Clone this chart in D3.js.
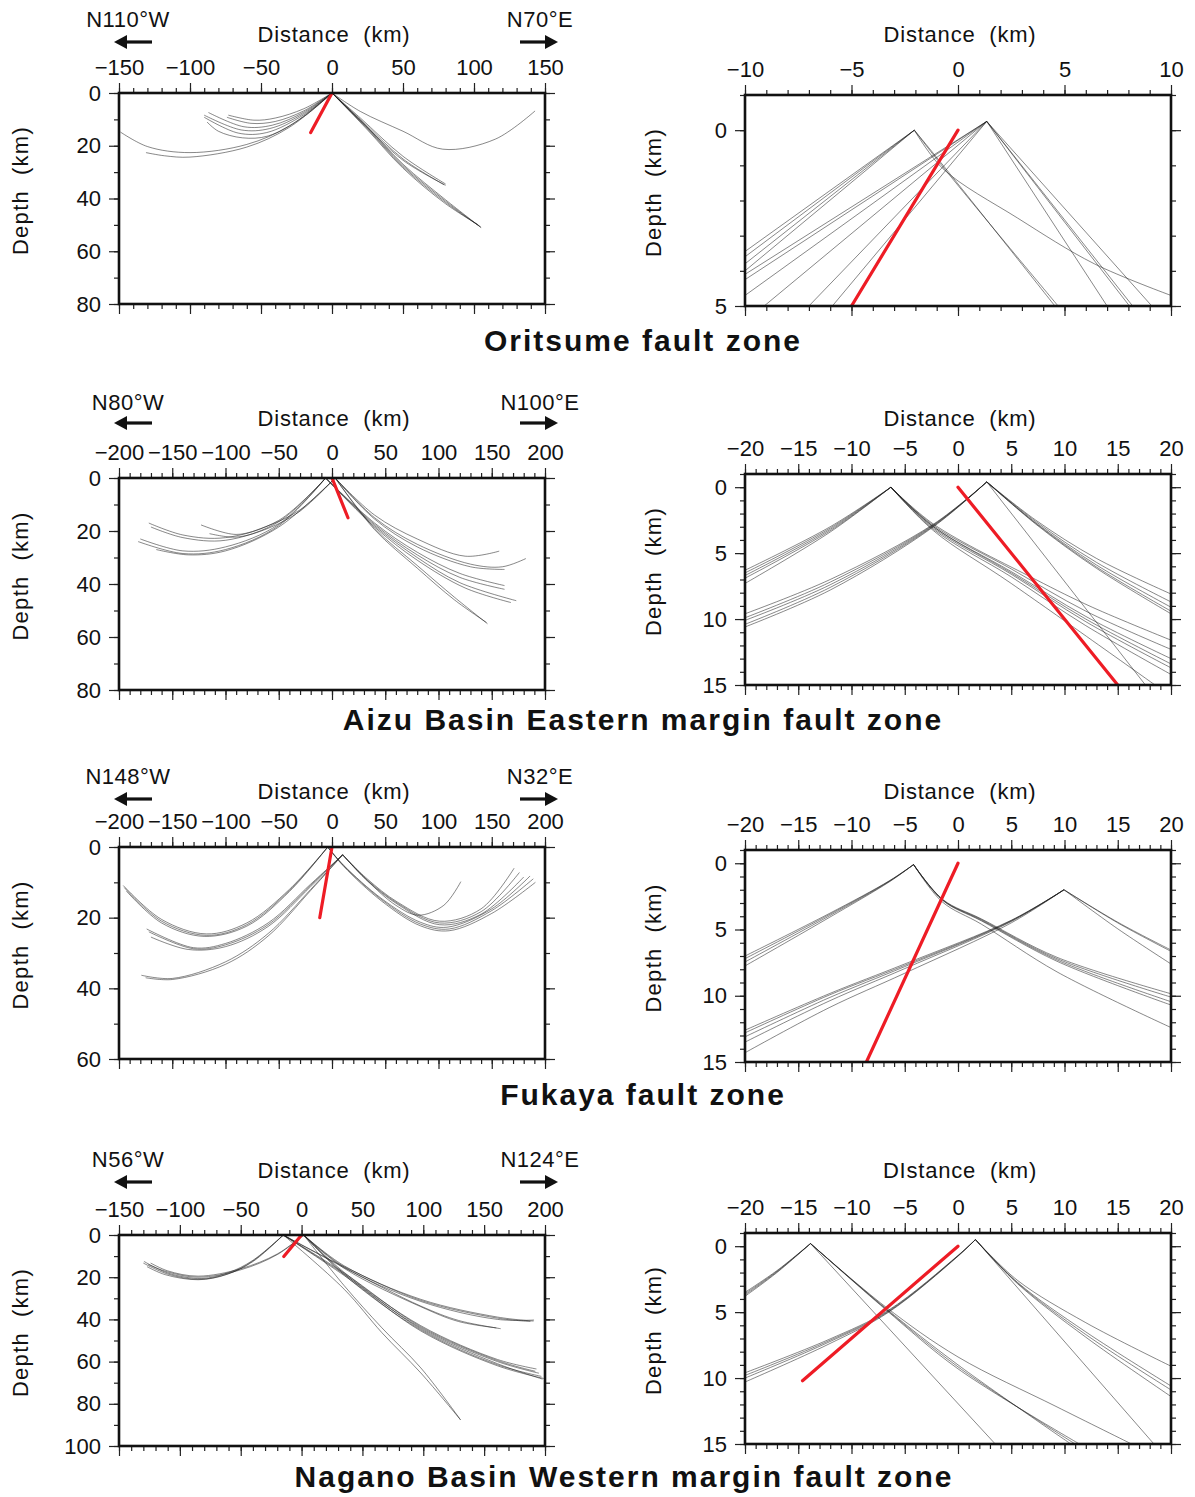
<!DOCTYPE html>
<html><head><meta charset="utf-8">
<script src="https://cdn.jsdelivr.net/npm/d3@7"></script>
<style>
body{margin:0;background:#fff;}
svg text{font-family:"Liberation Sans",Arial,Helvetica,sans-serif;fill:#111;}
</style></head><body>
<svg id="chart" width="1195" height="1497"></svg>
<script>
// ---------------- DATA ----------------
const zoneTitles = ["Oritsume fault zone", "Aizu Basin Eastern margin fault zone", "Fukaya fault zone", "Nagano Basin Western margin fault zone"];
const directionLabels = [["N110°W", "N70°E"], ["N80°W", "N100°E"], ["N148°W", "N32°E"], ["N56°W", "N124°E"]];
const wideDistanceDomains = [[-150, 150], [-200, 200], [-200, 200], [-150, 200]];
const wideDepthDomains = [[0, 80], [0, 80], [0, 60], [0, 100]];
const zoomDistanceDomains = [[-10, 10], [-20, 20], [-20, 20], [-20, 20]];
const zoomDepthDomains = [[-1, 5], [-1, 15], [-1, 15], [-1, 15]];
const distanceTitles = ["Distance  (km)", "Distance  (km)", "Distance  (km)", "Distance  (km)"];
const zoomDistanceTitles = ["Distance  (km)", "Distance  (km)", "Distance  (km)", "DIstance  (km)"];

// Oritsume
const oritsumeWideRays = [
  [[0,0],[-20,6],[-40,9.5],[-55,10.3],[-73,8.4]],
  [[0,0],[-20,6.8],[-40,10.8],[-57,11.5],[-74,9.2]],
  [[0,0],[-20,7.3],[-42,12.2],[-62,12.8],[-87,7.4]],
  [[0,0],[-20,7.8],[-44,13.5],[-64,14],[-90,8.4]],
  [[0,0],[-20,8.3],[-46,15],[-66,15.2],[-90,9.2]],
  [[0,0],[-20,9],[-45,16.3],[-63,17],[-80,14.5],[-88,11]],
  [[0,0],[-30,12.5],[-60,19.5],[-100,22.6],[-130,20.3],[-149,14.8]],
  [[0,0],[-30,13],[-60,20.5],[-100,24.3],[-118,23.8],[-131,22.6]],
  [[0,0],[20,7],[50,14.5],[78,21.3],[115,17.5],[143,6.8]],
  [[0,0],[20,9.5],[50,24],[80,34.5]],
  [[0,0],[20,10],[50,25],[79,34.8]],
  [[0,0],[20,10.5],[50,25.5],[80,35]],
  [[0,0],[25,13],[50,27],[80,40.5],[105,51]],
  [[0,0],[25,13.3],[50,27.5],[80,41],[105,51]],
  [[0,0],[25,13.6],[50,28],[80,41.5],[104,50.5]],
  [[0,0],[25,14],[50,28.5],[80,42],[103,50]]
];
const oritsumeWideFault = [[0,0],[-15,15]];
const oritsumeZoomRays = [
  [[-2.05,0],[-10,3.45]],
  [[-2.05,0],[-10,3.6]],
  [[-2.05,0],[-10,3.8]],
  [[-2.05,0],[-10,4.0]],
  [[-2.05,0],[-0.7,1.0],[4.55,5]],
  [[-2.05,0],[-0.7,1.05],[4.7,5]],
  [[-2.05,0],[-0.7,1.1],[2.8,2.5],[6.4,3.8],[10,4.7]],
  [[1.35,-0.25],[-10,4.1]],
  [[1.35,-0.25],[-10,4.25]],
  [[1.35,-0.25],[-10,4.7]],
  [[1.35,-0.25],[-9.1,5]],
  [[1.35,-0.25],[-7,5]],
  [[1.35,-0.25],[-5.9,5]],
  [[1.35,-0.25],[7,5]],
  [[1.35,-0.25],[8.05,5]],
  [[1.35,-0.25],[8.2,5]],
  [[1.35,-0.25],[9.1,5]]
];
const oritsumeZoomFault = [[0,0],[-5,5]];

// Aizu
const aizuWideRays = [
  [[-6,0],[-50,16],[-100,22.5],[-140,21.5],[-172,17]],
  [[-6,0],[-50,16.5],[-100,23.5],[-140,22.5],[-170,18.5]],
  [[-6,0],[-50,17.5],[-100,26],[-140,27.5],[-180,23]],
  [[-6,0],[-50,18],[-100,27],[-140,28.5],[-182,24]],
  [[3,0],[-50,18.5],[-100,27.5],[-135,29],[-165,27]],
  [[3,0],[-30,12],[-60,18],[-90,21.3],[-123,17.7]],
  [[3,0],[-30,12.5],[-60,19],[-90,22.3],[-115,21]],
  [[3,0],[40,14],[80,23],[125,29.5],[157,27.6]],
  [[3,0],[40,15],[80,25],[130,32.5],[160,33.5],[182,30.4]],
  [[3,0],[40,15.5],[80,26],[130,33.5],[162,34.5]],
  [[-6,0],[40,17],[80,28],[120,36],[162,40.6]],
  [[-6,0],[40,17.5],[80,29],[120,37.5],[162,42]],
  [[-6,0],[40,18],[80,30],[120,39.5],[173,46.3]],
  [[-6,0],[40,18.5],[80,31],[125,41.5],[168,47]],
  [[3,0],[40,19],[80,33],[115,45],[146,55]],
  [[3,0],[40,19.5],[80,34],[115,46],[145,54.5]]
];
const aizuWideFault = [[0,0],[15,15]];
const aizuZoomRays = [
  [[-6.3,0],[-12,3.0],[-20,6.3]],
  [[-6.3,0],[-12,3.1],[-20,6.5]],
  [[-6.3,0],[-12,3.2],[-20,6.7]],
  [[-6.3,0],[-12,3.3],[-20,6.9]],
  [[-6.3,0],[-12,3.4],[-20,7.3]],
  [[-6.3,0],[-2.3,2.8],[7.3,7.0],[12.6,9.1],[20,11.6]],
  [[-6.3,0],[-2.3,2.9],[5,6.2],[12,9.4],[20,12.3]],
  [[-6.3,0],[-2.3,3.0],[5,6.4],[12,9.8],[20,13.0]],
  [[-6.3,0],[-2.3,3.0],[5,6.5],[12,10],[20,13.4]],
  [[-6.3,0],[-2.3,3.1],[5,6.6],[12,10.2],[20,13.7]],
  [[-6.3,0],[-2.3,3.2],[5,6.8],[12,10.5],[20,14.2]],
  [[-6.3,0],[-2.3,3.3],[5,7.3],[18.5,15]],
  [[2.7,-0.4],[-2.3,2.8],[-12,7.0],[-20,9.6]],
  [[2.7,-0.4],[-2.3,2.85],[-12,7.2],[-20,9.9]],
  [[2.7,-0.4],[-2.3,2.9],[-12,7.4],[-20,10.1]],
  [[2.7,-0.4],[-2.3,2.95],[-12,7.6],[-20,10.4]],
  [[2.7,-0.4],[-2.3,3.0],[-12,7.8],[-20,10.6]],
  [[2.7,-0.4],[7.3,2.5],[13,5.4],[20,8.1]],
  [[2.7,-0.4],[7.3,2.6],[13,5.7],[20,8.7]],
  [[2.7,-0.4],[7.3,2.7],[13,5.9],[20,9.1]],
  [[2.7,-0.4],[7.3,2.75],[13,6.05],[20,9.4]],
  [[2.7,-0.4],[7.3,2.8],[13,6.15],[20,9.6]],
  [[2.7,-0.4],[17.6,15]]
];
const aizuZoomFault = [[0,0],[15,15]];

// Fukaya
const fukayaWideRays = [
  [[-4,0],[-40,12],[-80,21.5],[-118,24.6],[-160,20.5],[-196,10.9]],
  [[-4,0],[-40,12.3],[-80,22],[-118,25],[-160,21],[-195,11.5]],
  [[-4,0],[-40,12.6],[-80,22.4],[-120,25.3],[-160,21.5],[-193,12.5]],
  [[10,2.2],[-20,10.5],[-60,21.5],[-100,27.3],[-130,28.5],[-174,23.2]],
  [[10,2.2],[-20,10.8],[-60,22],[-100,27.7],[-130,28.8],[-172,24]],
  [[10,2.2],[-20,11.2],[-60,22.5],[-100,28.2],[-135,29],[-170,25.5]],
  [[10,2.2],[-20,12],[-60,24.5],[-100,32.5],[-150,37.2],[-179,36.3]],
  [[10,2.2],[-20,12.3],[-60,25.2],[-100,33.2],[-150,37.5],[-175,37]],
  [[-4,0],[11,5.2],[47,14.7],[83,21.3],[108,22.7],[150,17.5],[186,8.2]],
  [[-4,0],[11,5.3],[47,15],[83,21.8],[110,23.2],[150,18],[189,9]],
  [[-4,0],[11,5.5],[47,15.4],[83,22.3],[110,23.7],[150,18.8],[191,10]],
  [[10,2.2],[33,9],[61.5,15.6],[101,21],[140,17.5],[171,6]],
  [[10,2.2],[33,9.3],[62,16],[101,21.5],[140,18.3],[176,7.2]],
  [[10,2.2],[33,9.5],[62,16.3],[101,22],[140,19],[180,8.5]],
  [[10,2.2],[33,9.5],[60,16.5],[81,19.3],[105,16.5],[121,9.8]]
];
const fukayaWideFault = [[0,0],[-11.5,20]];
const fukayaZoomRays = [
  [[-4.17,0.1],[-6.4,1.3],[-12.1,3.8],[-20,7.0]],
  [[-4.17,0.1],[-6.4,1.32],[-12.1,3.88],[-20,7.2]],
  [[-4.17,0.1],[-6.4,1.35],[-12.1,3.98],[-20,7.45]],
  [[-4.17,0.1],[-6.4,1.38],[-12.1,4.1],[-20,7.75]],
  [[-4.17,0.1],[-1.4,2.75],[2.2,4.2],[9.3,7.1],[20,9.85]],
  [[-4.17,0.1],[-1.4,2.78],[2.2,4.25],[9.3,7.2],[20,10.1]],
  [[-4.17,0.1],[-1.4,2.8],[2.2,4.3],[9.3,7.3],[20,10.45]],
  [[-4.17,0.1],[-1.4,2.83],[2.2,4.35],[9.3,7.4],[20,10.7]],
  [[-4.17,0.1],[-1.5,2.9],[2.2,4.6],[9.3,8.2],[20,12.4]],
  [[9.95,2.0],[5,4.3],[-5,7.6],[-12.1,9.85],[-20,12.6]],
  [[9.95,2.0],[5,4.33],[-5,7.7],[-12.1,9.95],[-20,12.8]],
  [[9.95,2.0],[5,4.36],[-5,7.8],[-12.1,10.15],[-20,13.1]],
  [[9.95,2.0],[5,4.4],[-5,7.95],[-12.1,10.4],[-20,13.5]],
  [[9.95,2.0],[5,4.5],[-5,8.3],[-12.1,10.9],[-20,14.3]],
  [[9.95,2.0],[15,4.45],[20,6.55]],
  [[9.95,2.0],[15,4.5],[20,6.65]],
  [[9.95,2.0],[15,4.95],[20,7.6]]
];
const fukayaZoomFault = [[0,0],[-8.6,15]];

// Nagano
const naganoWideRays = [
  [[-15,0],[-40,12],[-60,17.8],[-82,20.6],[-110,18],[-129.5,12.5]],
  [[-15,0],[-40,12.3],[-60,18.3],[-84,21],[-110,18.5],[-130,13.3]],
  [[-15,0],[-40,12.6],[-62,18.8],[-85,21.2],[-112,18.8],[-127,15]],
  [[1.7,0],[-20,9],[-50,16],[-85,19.5],[-110,17],[-124,13.3]],
  [[1.7,0],[-20,9.3],[-50,16.5],[-85,20],[-110,17.5],[-126,14]],
  [[1.7,0],[35,14.6],[98,30.5],[161,38.9],[190.6,40.8]],
  [[-15,0],[35,15],[98,31],[161,39.4],[188,41]],
  [[1.7,0],[35,15.2],[98,31.5],[161,40],[191,40.3]],
  [[-15,0],[35,15.5],[98,33.7],[129,40.5],[163.6,44.4]],
  [[1.7,0],[35,15.8],[98,34],[129,41],[160,44]],
  [[-15,0],[35,18],[98,43.5],[161,59.5],[192,64.6]],
  [[1.7,0],[35,18.3],[98,44],[161,60],[195,65.5]],
  [[-15,0],[35,18.6],[98,44.5],[161,61],[198,68.3]],
  [[1.7,0],[35,18.9],[98,45],[161,61.5],[197,67]],
  [[-15,0],[35,19.2],[98,45.5],[161,62],[199,68]],
  [[1.7,0],[35,17.7],[98,43],[161,59],[193,63.5]],
  [[-15,0],[35,25.7],[66,46.3],[98,65.4],[130.6,87.6]],
  [[1.7,0],[35,24],[66,44],[98,63],[130.6,87.6]]
];
const naganoWideFault = [[0,0],[-14.6,10.2]];
const naganoZoomRays = [
  [[-13.85,-0.2],[-17,1.85],[-20,3.5]],
  [[-13.85,-0.2],[-17,1.9],[-20,3.6]],
  [[-13.85,-0.2],[-17,1.95],[-20,3.7]],
  [[-13.85,-0.2],[-17,2.0],[-20,3.8]],
  [[-13.85,-0.2],[-6.8,4.6],[0,8.4],[9.2,12.15],[16.3,15]],
  [[-13.85,-0.2],[-6.8,4.7],[0,9.0],[10.6,15]],
  [[-13.85,-0.2],[-6.8,4.75],[0,9.15],[11,15]],
  [[-13.85,-0.2],[-6.8,4.8],[0,9.3],[11.4,15]],
  [[-13.85,-0.2],[3.5,15]],
  [[1.64,-0.5],[0,0.7],[-6.5,4.84],[-12.2,7.1],[-20,9.6]],
  [[1.64,-0.5],[0,0.72],[-6.5,4.9],[-12.2,7.2],[-20,9.8]],
  [[1.64,-0.5],[0,0.74],[-6.5,4.95],[-12.2,7.3],[-20,10.0]],
  [[1.64,-0.5],[0,0.76],[-6.5,5.0],[-12.2,7.45],[-20,10.3]],
  [[1.64,-0.5],[5.6,2.6],[12,5.8],[20,9.1]],
  [[1.64,-0.5],[5.6,2.75],[12,6.5],[20,10.6]],
  [[1.64,-0.5],[5.6,2.8],[12,6.7],[20,10.9]],
  [[1.64,-0.5],[5.6,2.85],[12,6.9],[20,11.4]],
  [[1.64,-0.5],[18.4,15]]
];
const naganoZoomFault = [[0,0],[-14.6,10.2]];

const wideRays = [oritsumeWideRays, aizuWideRays, fukayaWideRays, naganoWideRays];
const wideFaults = [oritsumeWideFault, aizuWideFault, fukayaWideFault, naganoWideFault];
const zoomRays = [oritsumeZoomRays, aizuZoomRays, fukayaZoomRays, naganoZoomRays];
const zoomFaults = [oritsumeZoomFault, aizuZoomFault, fukayaZoomFault, naganoZoomFault];

// ---------------- LAYOUT ----------------
const rows = [
  {lTop:93, lBot:304, rTop:95, rBot:306, dirY:27, arrowY:42, distY:42, titleY:351, titleX:643},
  {lTop:478, lBot:690, rTop:474, rBot:685, dirY:410, arrowY:423, distY:426, titleY:730, titleX:643},
  {lTop:847, lBot:1059, rTop:850, rBot:1062, dirY:784, arrowY:799, distY:799, titleY:1105, titleX:643},
  {lTop:1235, lBot:1446, rTop:1233, rBot:1444, dirY:1167, arrowY:1182, distY:1178, titleY:1487, titleX:624}
];
const LX = [119, 545], RX = [745, 1171];

const svg = d3.select("#chart");
let clipId = 0;
const fmt = d3.format("d");

function majorMinor(dom, major, minor){
  const eps = 1e-9;
  const mj = d3.range(Math.ceil(dom[0]/major)*major, dom[1]+eps, major);
  const mn = d3.range(Math.ceil(dom[0]/minor)*minor, dom[1]+eps, minor);
  return [mj, mn];
}

function drawPanel(opt){
  const g = svg.append("g");
  const xs = d3.scaleLinear().domain(opt.xDom).range(opt.xr);
  const ys = d3.scaleLinear().domain(opt.yDom).range(opt.yr);
  const [xMj, xMn] = majorMinor(opt.xDom, opt.xMajor, opt.xMinor);
  const [yMj, yMn] = majorMinor(opt.yDom, opt.yMajor, opt.yMinor);

  const style = sel => {
    sel.select(".domain").remove();
    sel.selectAll("line").attr("stroke","#222").attr("stroke-width",1.2);
    sel.selectAll("text").style("font-size","22px").attr("fill","#111")
      .style("font-family",'"Liberation Sans",Arial,sans-serif');
  };
  // minor ticks
  g.append("g").attr("transform",`translate(0,${opt.yr[0]})`).call(d3.axisTop(xs).tickValues(xMn).tickSize(5).tickFormat("")).call(style);
  g.append("g").attr("transform",`translate(0,${opt.yr[1]})`).call(d3.axisBottom(xs).tickValues(xMn).tickSize(5).tickFormat("")).call(style);
  g.append("g").attr("transform",`translate(${opt.xr[0]},0)`).call(d3.axisLeft(ys).tickValues(yMn).tickSize(5).tickFormat("")).call(style);
  g.append("g").attr("transform",`translate(${opt.xr[1]},0)`).call(d3.axisRight(ys).tickValues(yMn).tickSize(5).tickFormat("")).call(style);
  // major ticks
  g.append("g").attr("transform",`translate(0,${opt.yr[0]})`).call(d3.axisTop(xs).tickValues(xMj).tickSize(10).tickPadding(8).tickFormat(fmt)).call(style);
  g.append("g").attr("transform",`translate(0,${opt.yr[1]})`).call(d3.axisBottom(xs).tickValues(xMj).tickSize(10).tickFormat("")).call(style);
  g.append("g").attr("transform",`translate(${opt.xr[0]},0)`).call(d3.axisLeft(ys).tickValues(yMj).tickSize(10).tickPadding(8).tickFormat(fmt)).call(style);
  g.append("g").attr("transform",`translate(${opt.xr[1]},0)`).call(d3.axisRight(ys).tickValues(yMj).tickSize(10).tickFormat("")).call(style);

  const id = "clip" + (clipId++);
  g.append("clipPath").attr("id", id).append("rect")
    .attr("x", opt.xr[0]).attr("y", opt.yr[0]).attr("width", opt.xr[1]-opt.xr[0]).attr("height", opt.yr[1]-opt.yr[0]);
  const plot = g.append("g").attr("clip-path", `url(#${id})`);
  const line = d3.line().x(d=>xs(d[0])).y(d=>ys(d[1])).curve(d3.curveCatmullRom.alpha(0.5));
  plot.selectAll("path.ray").data(opt.rays).join("path").attr("class","ray")
    .attr("d", line).attr("fill","none").attr("stroke","#1a1a1a").attr("stroke-opacity",0.55).attr("stroke-width",0.95);
  plot.append("path").datum(opt.fault).attr("d", d3.line().x(d=>xs(d[0])).y(d=>ys(d[1])))
    .attr("fill","none").attr("stroke","#ee1c25").attr("stroke-width",3.2).attr("stroke-linecap","round");

  g.append("rect").attr("x", opt.xr[0]).attr("y", opt.yr[0])
    .attr("width", opt.xr[1]-opt.xr[0]).attr("height", opt.yr[1]-opt.yr[0])
    .attr("fill","none").attr("stroke","#111").attr("stroke-width",2.6);

  // axis titles
  g.append("text").attr("x", (opt.xr[0]+opt.xr[1])/2 + 2).attr("y", opt.distY)
    .attr("text-anchor","middle").style("font-size","22px").style("letter-spacing","0.8px")
    .style("white-space","pre").text(opt.distTitle);
  const cy = (opt.yr[0]+opt.yr[1])/2 - 8;
  g.append("text").attr("transform", `translate(${opt.depthX},${cy}) rotate(-90)`)
    .attr("text-anchor","middle").attr("dy","0.35em").style("font-size","22px").style("letter-spacing","1.3px")
    .style("white-space","pre").text("Depth  (km)");
}

function arrow(x1, x2, y){
  const dir = Math.sign(x2 - x1);
  svg.append("line").attr("x1", x1).attr("x2", x2 - dir*9).attr("y1", y).attr("y2", y)
    .attr("stroke","#111").attr("stroke-width",3.2);
  svg.append("path").attr("d", `M${x2},${y} L${x2-dir*13},${y-7} L${x2-dir*13},${y+7} Z`).attr("fill","#111");
}

rows.forEach((r, i) => {
  drawPanel({xr: LX, yr: [r.lTop, r.lBot], xDom: wideDistanceDomains[i], yDom: wideDepthDomains[i],
    xMajor: 50, xMinor: 10, yMajor: 20, yMinor: 10, rays: wideRays[i], fault: wideFaults[i],
    distY: r.distY, distTitle: distanceTitles[i], depthX: 20});
  drawPanel({xr: RX, yr: [r.rTop, r.rBot], xDom: zoomDistanceDomains[i], yDom: zoomDepthDomains[i],
    xMajor: 5, xMinor: 1, yMajor: 5, yMinor: 1, rays: zoomRays[i], fault: zoomFaults[i],
    distY: r.distY, distTitle: zoomDistanceTitles[i], depthX: 653});
  // direction labels
  svg.append("text").attr("x", 128).attr("y", r.dirY).attr("text-anchor","middle")
    .style("font-size","22px").style("letter-spacing","0.5px").text(directionLabels[i][0]);
  svg.append("text").attr("x", 540).attr("y", r.dirY).attr("text-anchor","middle")
    .style("font-size","22px").style("letter-spacing","0.5px").text(directionLabels[i][1]);
  arrow(152, 114, r.arrowY);
  arrow(520, 558, r.arrowY);
  // title
  svg.append("text").attr("x", r.titleX).attr("y", r.titleY).attr("text-anchor","middle")
    .style("font-size","30px").style("font-weight","bold").style("letter-spacing","2px").text(zoneTitles[i]);
});
</script>
</body></html>
